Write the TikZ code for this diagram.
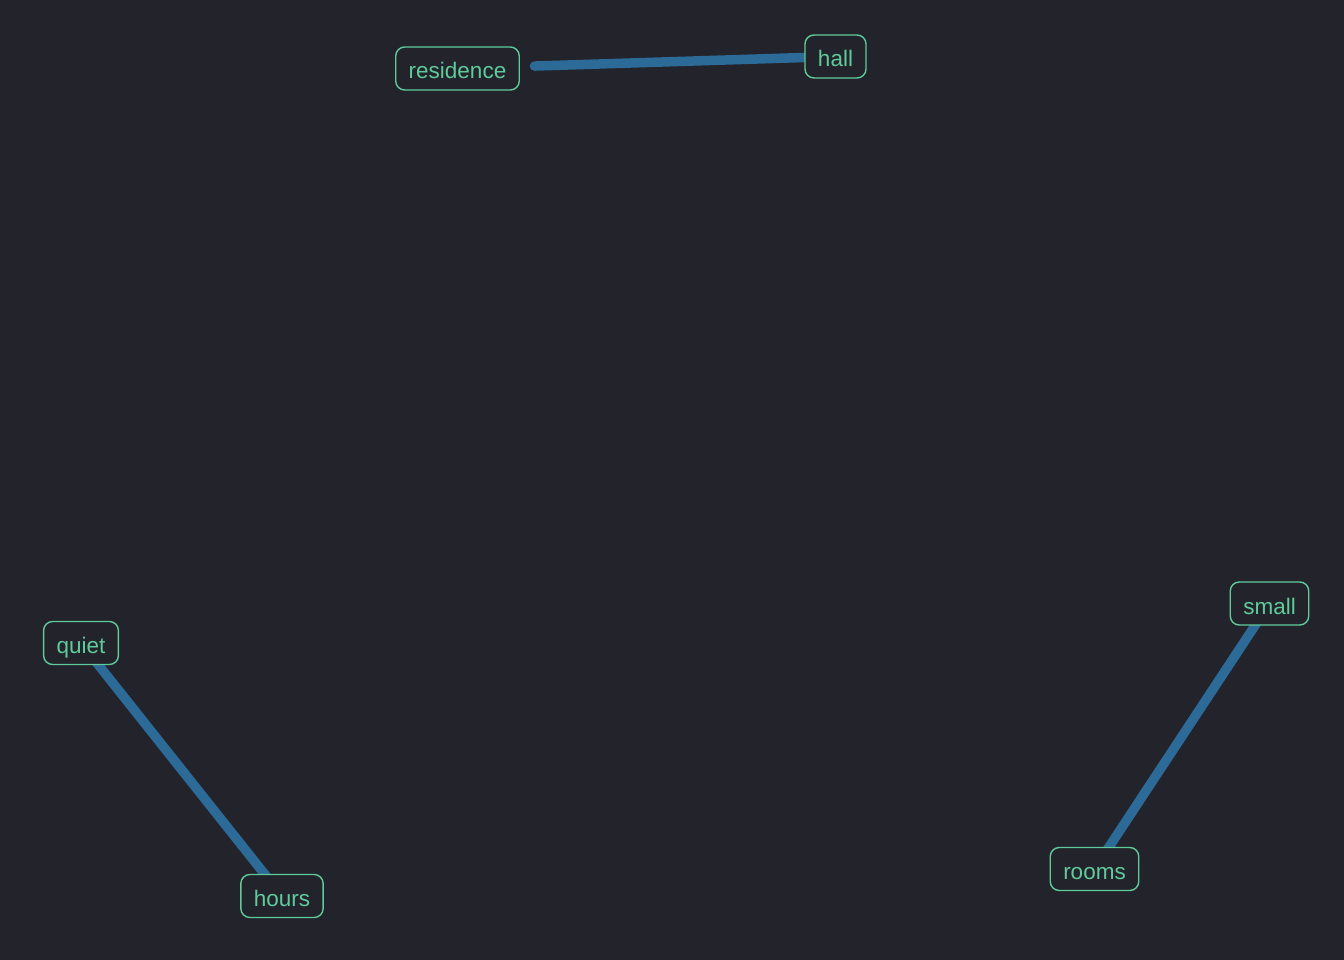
\documentclass[tikz,border=0pt]{standalone}
\usepackage{fontspec}
\setmainfont{Liberation Sans}
\definecolor{bgc}{HTML}{23242B}
\definecolor{edgec}{HTML}{2C6A97}
\definecolor{nodec}{HTML}{5FCB9B}
\pgfdeclarelayer{edgelayer}
\pgfsetlayers{edgelayer,main}
\begin{document}
\begin{tikzpicture}[x=1pt,y=-1pt,
  word/.style={draw=nodec, line width=1.4pt, fill=bgc, text=nodec, rounded corners=9pt,
    inner xsep=13pt, inner ysep=0pt, minimum height=43pt, text height=21pt, text depth=0pt,
    font=\fontsize{22.5}{26}\selectfont},
  link/.style={draw=edgec, line width=9.5pt, line cap=round}]
\begin{pgfonlayer}{edgelayer}
\fill[bgc] (0,0) rectangle (1344,960);
\end{pgfonlayer}
\useasboundingbox (0,0) rectangle (1344,960);
\node[word] (residence) at (457.5,68.5) {residence};
\node[word] (hall) at (835.5,56.5) {hall};
\node[word] (quiet) at (81,643) {quiet};
\node[word] (hours) at (282,896) {hours};
\node[word] (small) at (1269.5,603.5) {small};
\node[word] (rooms) at (1094.5,869) {rooms};
\begin{pgfonlayer}{edgelayer}
\draw[link, shorten <=77pt] (residence.center) -- (hall.center);
\draw[link] (quiet.center) -- (hours.center);
\draw[link] (small.center) -- (rooms.center);
\end{pgfonlayer}
\end{tikzpicture}
\end{document}
